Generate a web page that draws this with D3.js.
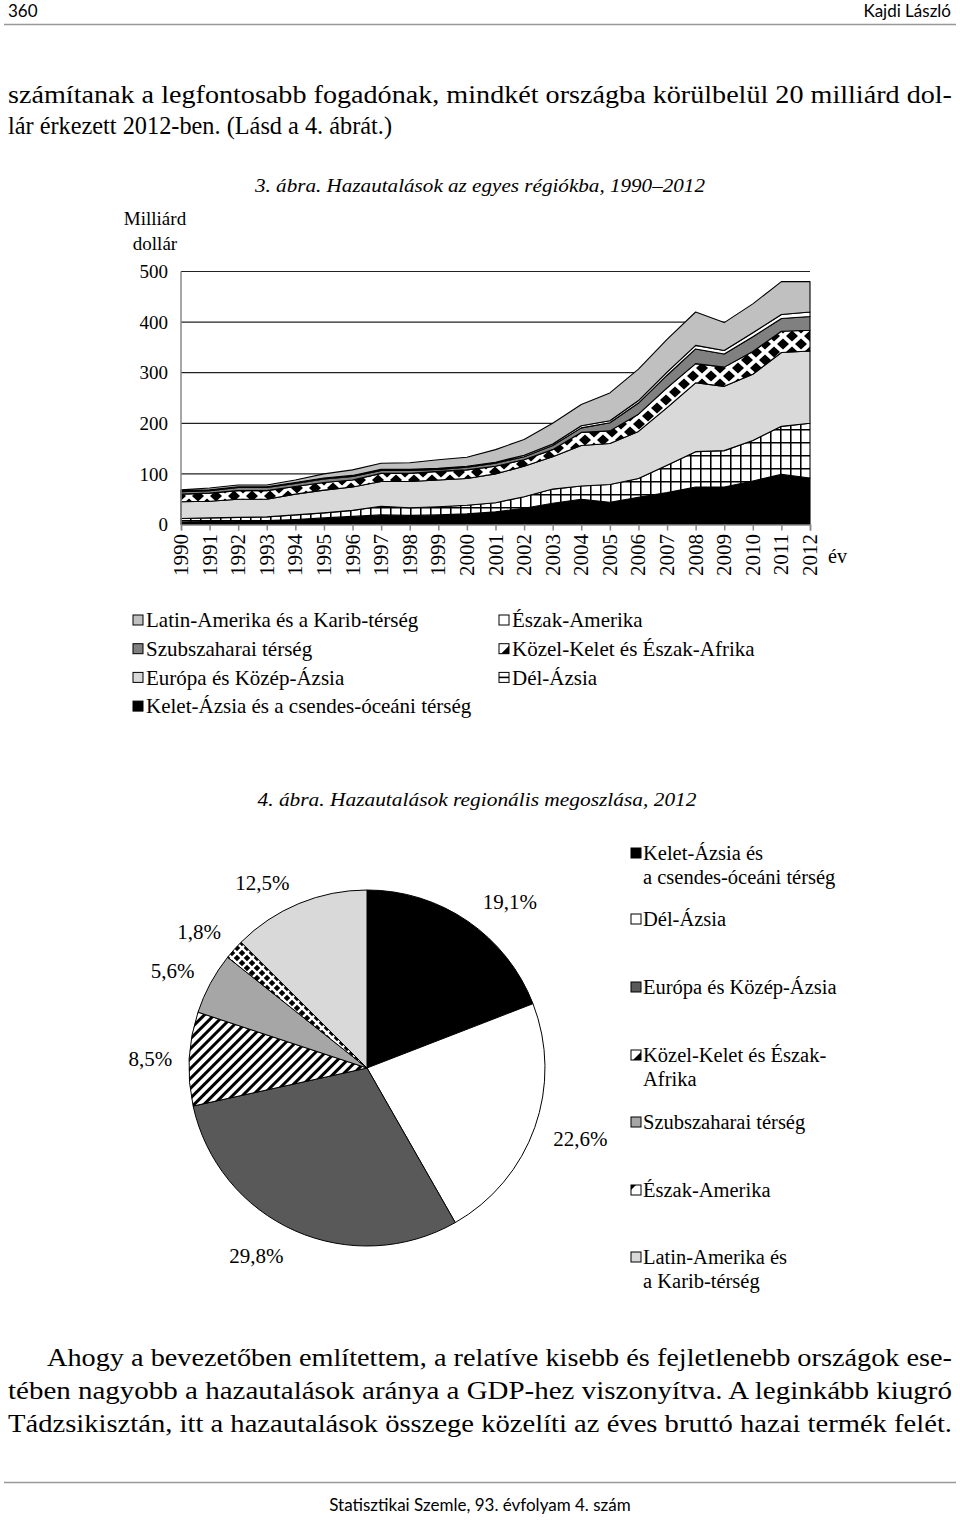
<!DOCTYPE html>
<html><head><meta charset="utf-8">
<script src="https://cdn.jsdelivr.net/npm/d3@7"></script>
<style>body{margin:0;background:#fff}svg{display:block}</style>
</head><body>
<script>
// ---------- DATA ----------
const years = ["1990","1991","1992","1993","1994","1995","1996","1997","1998","1999","2000","2001","2002","2003","2004","2005","2006","2007","2008","2009","2010","2011","2012"];
// stacked bottom -> top (milliárd dollár)
const keletAzsia   = [5,6,7,8,10,13,16,19,18,19,21,25,32,42,50,44,54,63,74,74,86,99,92];
const delAzsia     = [7,7,7,7,9,10,12,17,15,16,17,18,23,28,26,35,37,54,70,72,80,95,108];
const europa       = [33,33,36,35,41,45,46,49,52,53,53,57,60,64,80,81,93,114,136,127,131,146,143];
const kozelKelet   = [15,16,17,17,15,15,14,16,16,17,17,15,13,14,26,25,34,39,38,38,45,42,41];
const szubszahara  = [5,5,6,6,6,7,7,6,6,4,5,6,6,8,9,16,22,25,29,26,29,25,27];
const eszakAmerika = [1.5,1.5,1.5,1.5,2,2,2,2,2,2,2,2,3,3,4,4,5,6,7,7,8,8,9];
const latinAmerika = [2,3.5,3.5,3.5,5,8,11,12,13,17,18,25,31,41,42,55,62,65,66,55,57,65,60];
const yTicks = [0,100,200,300,400,500];

const pieNames  = ["Kelet-Ázsia és a csendes-óceáni térség","Dél-Ázsia","Európa és Közép-Ázsia","Közel-Kelet és Észak-Afrika","Szubszaharai térség","Észak-Amerika","Latin-Amerika és a Karib-térség"];
const pieValues = [19.1,22.6,29.8,8.5,5.6,1.8,12.5];
const pieLabels = ["19,1%","22,6%","29,8%","8,5%","5,6%","1,8%","12,5%"];

// ---------- STYLE / LAYOUT ----------
const W = 960, H = 1521;
const serif = "'Liberation Serif','Times New Roman',serif";
const sans = "Lato,'DejaVu Sans',sans-serif";
const svg = d3.select("body").append("svg").attr("width", W).attr("height", H);
const defs = svg.append("defs");

// patterns
const pGrid = defs.append("pattern").attr("id","pGrid").attr("patternUnits","userSpaceOnUse").attr("width",10).attr("height",13);
pGrid.append("rect").attr("width",10).attr("height",13).attr("fill","#fff");
pGrid.append("path").attr("d","M0.75,0V13M0,0.75H10").attr("stroke","#000").attr("stroke-width",1.6);

const pDia = defs.append("pattern").attr("id","pDia").attr("patternUnits","userSpaceOnUse").attr("width",18).attr("height",16);
pDia.append("rect").attr("width",18).attr("height",16).attr("fill","#fff");
[[0,0],[18,0],[9,8],[0,16],[18,16]].forEach(([cx,cy])=>{
  pDia.append("path").attr("d",`M${cx-6},${cy}L${cx},${cy-5.5}L${cx+6},${cy}L${cx},${cy+5.5}Z`).attr("fill","#000");
});

const pChk = defs.append("pattern").attr("id","pChk").attr("patternUnits","userSpaceOnUse").attr("width",10).attr("height",10);
pChk.append("rect").attr("width",10).attr("height",10).attr("fill","#fff");
[[0,0],[10,0],[5,5],[0,10],[10,10]].forEach(([cx,cy])=>{
  pChk.append("path").attr("d",`M${cx-3.3},${cy}L${cx},${cy-3.3}L${cx+3.3},${cy}L${cx},${cy+3.3}Z`).attr("fill","#000");
});

const pStr = defs.append("pattern").attr("id","pStr").attr("patternUnits","userSpaceOnUse").attr("width",7).attr("height",7).attr("patternTransform","rotate(45)");
pStr.append("rect").attr("width",7).attr("height",7).attr("fill","#fff");
pStr.append("rect").attr("width",3).attr("height",7).attr("fill","#000");

// ---------- HEADER ----------
svg.append("text").attr("x",8).attr("y",17).attr("font-family",sans).attr("font-size",17).text("360");
svg.append("text").attr("x",951).attr("y",17).attr("text-anchor","end").attr("font-family",sans).attr("font-size",17).text("Kajdi László");
svg.append("line").attr("x1",4).attr("x2",956).attr("y1",24.5).attr("y2",24.5).attr("stroke","#999").attr("stroke-width",1.5);

function para(x, y, txt, len, size) {
  const t = svg.append("text").attr("x",x).attr("y",y).attr("font-family",serif).attr("font-size",size).text(txt);
  if (len) t.attr("textLength",len).attr("lengthAdjust","spacingAndGlyphs");
  return t;
}
para(8,103,"számítanak a legfontosabb fogadónak, mindkét országba körülbelül 20 milliárd dol-",944,26);
para(8,134,"lár érkezett 2012-ben. (Lásd a 4. ábrát.)",384,26);

svg.append("text").attr("x",480).attr("y",192).attr("text-anchor","middle").attr("font-family",serif).attr("font-style","italic").attr("font-size",19)
  .attr("textLength",450).attr("lengthAdjust","spacingAndGlyphs").text("3. ábra. Hazautalások az egyes régiókba, 1990–2012");

// ---------- AREA CHART ----------
const x = d3.scalePoint().domain(years).range([181, 810]);
const y = d3.scaleLinear().domain([0, 500]).range([524.5, 271.5]);

const keys = ["kelet","del","europa","kozel","szub","eszak","latin"];
const seriesArr = [keletAzsia, delAzsia, europa, kozelKelet, szubszahara, eszakAmerika, latinAmerika];
const rows = years.map((yr,i)=>{ const r = {year: yr}; keys.forEach((k,j)=> r[k] = seriesArr[j][i]); return r; });
const stack = d3.stack().keys(keys)(rows);
const areaFill = {kelet:"#000", del:"url(#pGrid)", europa:"#d9d9d9", kozel:"url(#pDia)", szub:"#808080", eszak:"#fff", latin:"#c0c0c0"};

const g = svg.append("g");
g.selectAll("line.grid").data(yTicks.filter(d=>d>0)).join("line")
  .attr("x1",181).attr("x2",810).attr("y1",d=>y(d)).attr("y2",d=>y(d))
  .attr("stroke","#222").attr("stroke-width",1.2);

const area = d3.area().x(d=>x(d.data.year)).y0(d=>y(d[0])).y1(d=>y(d[1]));
g.selectAll("path.layer").data(stack).join("path")
  .attr("d",area).attr("fill",d=>areaFill[d.key]).attr("stroke","#000").attr("stroke-width",1.1).attr("stroke-linejoin","round");

g.append("line").attr("x1",181).attr("x2",181).attr("y1",y(500)).attr("y2",y(0)).attr("stroke","#888").attr("stroke-width",1.5);
const xAxis = d3.axisBottom(x).tickSize(6).tickFormat("");
const xa = g.append("g").attr("transform",`translate(0,${y(0)})`).call(xAxis);
xa.select(".domain").attr("stroke","#888").attr("stroke-width",1.5);
xa.selectAll(".tick line").attr("stroke","#888").attr("stroke-width",1.5);

g.selectAll("text.xl").data(years).join("text")
  .attr("transform",d=>`translate(${x(d)+7},534) rotate(-90)`)
  .attr("text-anchor","end").attr("font-family",serif).attr("font-size",21).text(d=>d);

g.selectAll("text.yl").data(yTicks).join("text")
  .attr("x",168).attr("y",d=>y(d)).attr("dy","0.35em").attr("text-anchor","end")
  .attr("font-family",serif).attr("font-size",19).text(d=>d);

svg.append("text").attr("x",155).attr("y",225).attr("text-anchor","middle").attr("font-family",serif).attr("font-size",19).text("Milliárd");
svg.append("text").attr("x",155).attr("y",250).attr("text-anchor","middle").attr("font-family",serif).attr("font-size",19).text("dollár");
svg.append("text").attr("x",828).attr("y",563).attr("font-family",serif).attr("font-size",20).text("év");

// legend 1
function icon(sel, x0, yc, kind, fill) {
  const s = 10;
  const gg = sel.append("g").attr("transform",`translate(${x0},${yc - s/2})`);
  gg.append("rect").attr("width",s).attr("height",s).attr("fill", kind==="solid" ? fill : "#fff").attr("stroke","#000").attr("stroke-width",1);
  if (kind==="tri") gg.append("path").attr("d",`M${s},2L${s},${s}L2,${s}Z`).attr("fill","#000");
  if (kind==="grid") gg.append("path").attr("d",`M0,${s/2}H${s}`).attr("stroke","#000").attr("stroke-width",1.6);
  if (kind==="corner") gg.append("path").attr("d",`M0,0H5L0,5Z`).attr("fill","#000");
}
const leg1 = [
  {name:"Latin-Amerika és a Karib-térség", kind:"solid", fill:"#c0c0c0", col:0, row:0},
  {name:"Szubszaharai térség", kind:"solid", fill:"#808080", col:0, row:1},
  {name:"Európa és Közép-Ázsia", kind:"solid", fill:"#d9d9d9", col:0, row:2},
  {name:"Kelet-Ázsia és a csendes-óceáni térség", kind:"solid", fill:"#000", col:0, row:3},
  {name:"Észak-Amerika", kind:"solid", fill:"#fff", col:1, row:0},
  {name:"Közel-Kelet és Észak-Afrika", kind:"tri", col:1, row:1},
  {name:"Dél-Ázsia", kind:"grid", col:1, row:2}
];
leg1.forEach(d=>{
  const x0 = d.col ? 499 : 133, yc = 620 + d.row*28.7;
  icon(svg, x0, yc, d.kind, d.fill);
  svg.append("text").attr("x",x0+13).attr("y",yc).attr("dy","0.35em").attr("font-family",serif).attr("font-size",21).text(d.name);
});

// ---------- PIE ----------
svg.append("text").attr("x",477).attr("y",806).attr("text-anchor","middle").attr("font-family",serif).attr("font-style","italic").attr("font-size",19)
  .attr("textLength",439).attr("lengthAdjust","spacingAndGlyphs").text("4. ábra. Hazautalások regionális megoszlása, 2012");

const cx = 367, cy = 1068, R = 178;
const pieFill = ["#000","#fff","#595959","url(#pStr)","#a6a6a6","url(#pChk)","#d9d9d9"];
const pie = d3.pie().sort(null).value(d=>d)(pieValues);
const arc = d3.arc().innerRadius(0).outerRadius(R);
const pg = svg.append("g").attr("transform",`translate(${cx},${cy})`);
pg.selectAll("path").data(pie).join("path").attr("d",arc)
  .attr("fill",(d,i)=>pieFill[i]).attr("stroke","#000").attr("stroke-width",1);

const labelR = 221;
const nudges = [[18,16],[5,-3],[-21,-14],[4,2],[0,8],[-3,11],[-20,19]];
pg.selectAll("text").data(pie).join("text")
  .attr("x",(d,i)=>Math.sin((d.startAngle+d.endAngle)/2)*labelR + nudges[i][0])
  .attr("y",(d,i)=>-Math.cos((d.startAngle+d.endAngle)/2)*labelR + nudges[i][1])
  .attr("dy","0.35em").attr("text-anchor","middle").attr("font-family",serif).attr("font-size",21)
  .text((d,i)=>pieLabels[i]);

// pie legend
const leg2 = [
  {lines:["Kelet-Ázsia és","a csendes-óceáni térség"], kind:"solid", fill:"#000", y:853},
  {lines:["Dél-Ázsia"], kind:"solid", fill:"#fff", y:919},
  {lines:["Európa és Közép-Ázsia"], kind:"solid", fill:"#595959", y:987},
  {lines:["Közel-Kelet és Észak-","Afrika"], kind:"tri", y:1055},
  {lines:["Szubszaharai térség"], kind:"solid", fill:"#a6a6a6", y:1122},
  {lines:["Észak-Amerika"], kind:"corner", y:1190},
  {lines:["Latin-Amerika és","a Karib-térség"], kind:"solid", fill:"#d9d9d9", y:1257}
];
leg2.forEach(d=>{
  icon(svg, 631, d.y, d.kind, d.fill);
  d.lines.forEach((ln,k)=>{
    svg.append("text").attr("x",643).attr("y",d.y + k*24).attr("dy","0.35em").attr("font-family",serif).attr("font-size",20.5).text(ln);
  });
});

// ---------- BOTTOM TEXT ----------
para(47,1366,"Ahogy a bevezetőben említettem, a relatíve kisebb és fejletlenebb országok ese-",905,26);
para(8,1399,"tében nagyobb a hazautalások aránya a GDP-hez viszonyítva. A leginkább kiugró",944,26);
para(8,1432,"Tádzsikisztán, itt a hazautalások összege közelíti az éves bruttó hazai termék felét.",944,26);

svg.append("line").attr("x1",4).attr("x2",956).attr("y1",1482.5).attr("y2",1482.5).attr("stroke","#999").attr("stroke-width",1.5);
svg.append("text").attr("x",480).attr("y",1511).attr("text-anchor","middle").attr("font-family",sans).attr("font-size",17).text("Statisztikai Szemle, 93. évfolyam 4. szám");
</script>
</body></html>
